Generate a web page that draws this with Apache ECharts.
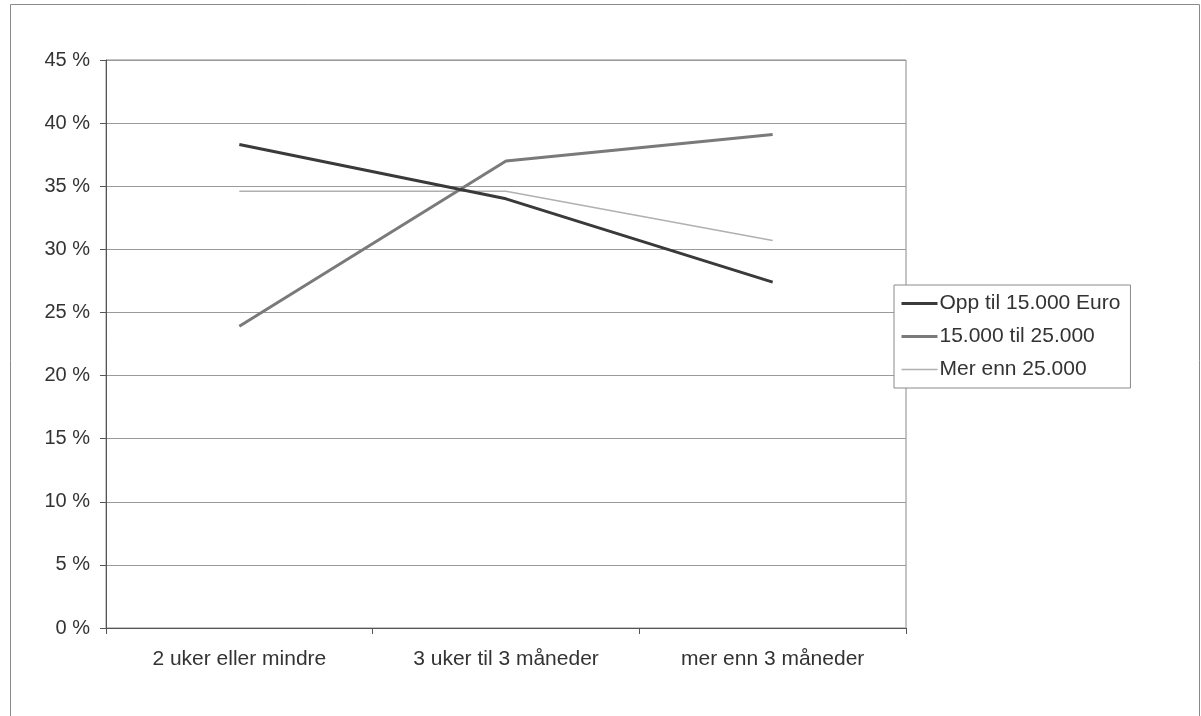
<!DOCTYPE html>
<html>
<head>
<meta charset="utf-8">
<script src="https://cdn.jsdelivr.net/npm/echarts@6/dist/echarts.min.js"></script>
<style>html,body{margin:0;padding:0;background:#fff}#c{width:1201px;height:716px}</style>
</head>
<body>
<div id="c"></div>
<script>
const categories = ['2 uker eller mindre', '3 uker til 3 måneder', 'mer enn 3 måneder'];
const seriesNames = ['Opp til 15.000 Euro', '15.000 til 25.000', 'Mer enn 25.000'];
const oppTil15000 = [38.3, 34.0, 27.4];
const fra15000til25000 = [23.9, 37.0, 39.1];
const merEnn25000 = [34.6, 34.6, 30.7];
const yTicks = [0, 5, 10, 15, 20, 25, 30, 35, 40, 45];

const font = 'Liberation Sans, Arial, sans-serif';
const chart = echarts.init(document.getElementById('c'), null, {renderer: 'canvas'});
chart.setOption({
  animation: false,
  backgroundColor: '#fff',
  textStyle: {fontFamily: font},
  graphic: [{
    type: 'rect', z: 0,
    shape: {x: 10.5, y: 4.5, width: 1189, height: 730},
    style: {fill: 'none', stroke: '#8a8a8a', lineWidth: 1}
  }],
  grid: {left: 106, top: 60, right: 295, bottom: 88, show: true, borderColor: '#8a8a8a', borderWidth: 1, backgroundColor: 'transparent'},
  xAxis: {
    type: 'category', data: categories, boundaryGap: true,
    axisLine: {lineStyle: {color: '#555', width: 1}},
    axisTick: {show: true, length: 6, lineStyle: {color: '#555'}},
    axisLabel: {color: '#333', fontSize: 21, fontFamily: font, margin: 21}
  },
  yAxis: {
    type: 'value', min: yTicks[0], max: yTicks[yTicks.length - 1], interval: 5,
    axisLine: {show: true, lineStyle: {color: '#555', width: 1}},
    axisTick: {show: true, length: 6, lineStyle: {color: '#555'}},
    axisLabel: {color: '#333', fontSize: 20, fontFamily: font, margin: 16, formatter: '{value} %'},
    splitLine: {show: true, lineStyle: {color: '#9a9a9a', width: 1}}
  },
  legend: {
    orient: 'vertical', left: 894, top: 285,
    data: seriesNames,
    backgroundColor: '#fff', borderColor: '#8a8a8a', borderWidth: 1,
    padding: [8, 10, 8, 6],
    itemWidth: 36, itemHeight: 20, itemGap: 12,
    itemStyle: {opacity: 0},
    lineStyle: {width: 'inherit'},
    textStyle: {color: '#333', fontSize: 21, fontFamily: font, padding: [0, 0, 0, -3]}
  },
  series: [
    {name: seriesNames[0], type: 'line', data: oppTil15000, symbol: 'none', lineStyle: {color: '#3a3a3a', width: 3}, itemStyle: {color: '#3a3a3a'}, z: 4},
    {name: seriesNames[1], type: 'line', data: fra15000til25000, symbol: 'none', lineStyle: {color: '#7a7a7a', width: 3}, itemStyle: {color: '#7a7a7a'}, z: 3},
    {name: seriesNames[2], type: 'line', data: merEnn25000, symbol: 'none', lineStyle: {color: '#b0b0b0', width: 1.5}, itemStyle: {color: '#b0b0b0'}, z: 2}
  ]
});
</script>
</body>
</html>
